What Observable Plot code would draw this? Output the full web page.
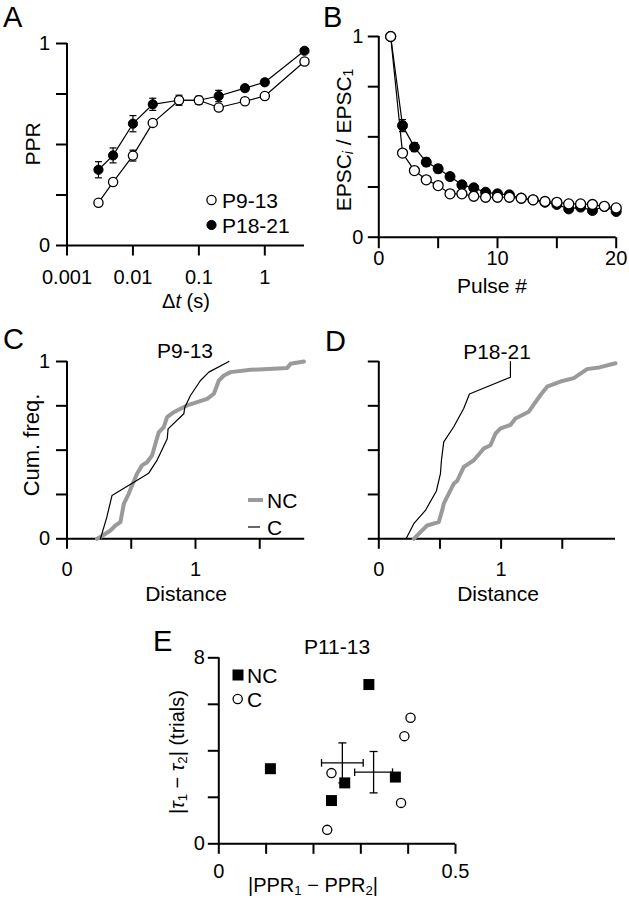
<!DOCTYPE html>
<html><head><meta charset="utf-8">
<script src="https://cdn.jsdelivr.net/npm/d3@7"></script>
<script src="https://cdn.jsdelivr.net/npm/@observablehq/plot@0.6"></script>
<style>
body{margin:0;background:#fff}
#fig{position:relative;width:629px;height:900px;background:#fff;font-family:"Liberation Sans",Arial,sans-serif}
#fig svg{position:absolute}
</style></head><body><div id="fig"></div>
<script>
// ---------- Panel A: paired-pulse ratio vs interval ----------
const dtA = [0.003, 0.005, 0.01, 0.02, 0.05, 0.1, 0.2, 0.5, 1, 4];
const pprP9 = [0.212, 0.314, 0.445, 0.607, 0.719, 0.719, 0.683, 0.714, 0.740, 0.911];
const pprP9Err = [0.012, 0.015, 0.027, 0.015, 0.012, 0.012, 0.015, 0.012, 0.012, 0.012];
const pprP18 = [0.375, 0.446, 0.603, 0.699, 0.719, 0.719, 0.740, 0.779, 0.808, 0.964];
const pprP18Err = [0.040, 0.037, 0.040, 0.030, 0.025, 0.020, 0.028, 0.015, 0.015, 0.012];
const dtTicks = [0.001, 0.01, 0.1, 1];
const dtTickLabels = ["0.001", "0.01", "0.1", "1"];
const unitTicks = [0, 0.25, 0.5, 0.75, 1];

// ---------- Panel B: train depression ----------
const pulses = [1,2,3,4,5,6,7,8,9,10,11,12,13,14,15,16,17,18,19,20];
const epscP9 = [1.0, 0.419, 0.332, 0.286, 0.257, 0.216, 0.216, 0.204, 0.199, 0.199, 0.199, 0.194, 0.186, 0.178, 0.174, 0.166, 0.166, 0.163, 0.154, 0.146];
const epscP9Err = [0, 0.01, 0.01, 0.01, 0.01, 0.01, 0.01, 0.01, 0.01, 0.01, 0.01, 0.01, 0.01, 0.018, 0.01, 0.01, 0.01, 0.01, 0.01, 0.01];
const epscP18 = [1.0, 0.556, 0.449, 0.374, 0.341, 0.302, 0.261, 0.246, 0.224, 0.216, 0.211, 0.194, 0.186, 0.174, 0.163, 0.141, 0.150, 0.133, 0.153, 0.128];
const epscP18Err = [0, 0.03, 0.022, 0.02, 0.02, 0.018, 0.016, 0.015, 0.014, 0.013, 0.012, 0.012, 0.012, 0.012, 0.012, 0.012, 0.012, 0.012, 0.012, 0.012];
const pulseTicks = [0, 5, 10, 15, 20];

// ---------- Panel C: P9-13 cumulative distributions ----------
const distC_NC = [0.234, 0.26, 0.338, 0.377, 0.416, 0.442, 0.48, 0.506, 0.545, 0.584, 0.623, 0.662, 0.688, 0.714, 0.753, 0.779, 0.831, 0.883, 0.935, 1.013, 1.091, 1.143, 1.182, 1.221, 1.273, 1.429, 1.714, 1.74, 1.844];
const cumC_NC  = [0, 0.01, 0.047, 0.075, 0.094, 0.197, 0.254, 0.30, 0.367, 0.414, 0.432, 0.47, 0.536, 0.60, 0.63, 0.686, 0.714, 0.733, 0.752, 0.771, 0.789, 0.818, 0.893, 0.921, 0.94, 0.953, 0.964, 0.987, 1.0];
const distC_C = [0.26, 0.31, 0.35, 0.636, 0.70, 0.78, 0.787, 0.909, 0.917, 0.961, 1.039, 1.104, 1.26];
const cumC_C  = [0, 0.122, 0.244, 0.370, 0.442, 0.564, 0.620, 0.705, 0.742, 0.808, 0.893, 0.940, 1.0];

// ---------- Panel D: P18-21 cumulative distributions ----------
const distD_NC = [0.286, 0.34, 0.395, 0.49, 0.518, 0.531, 0.572, 0.613, 0.64, 0.695, 0.777, 0.858, 0.913, 0.954, 0.995, 1.076, 1.117, 1.226, 1.322, 1.376, 1.485, 1.594, 1.703, 1.812, 1.935];
const cumD_NC  = [0, 0.038, 0.075, 0.094, 0.16, 0.198, 0.255, 0.311, 0.326, 0.406, 0.443, 0.509, 0.528, 0.594, 0.623, 0.642, 0.679, 0.717, 0.811, 0.858, 0.887, 0.906, 0.957, 0.968, 0.99];
const distD_C = [0.223, 0.286, 0.381, 0.471, 0.504, 0.512, 0.531, 0.613, 0.695, 0.741, 1.076, 1.076];
const cumD_C  = [0, 0.085, 0.16, 0.27, 0.368, 0.443, 0.547, 0.632, 0.736, 0.817, 0.911, 1.0];
const distTicks = [0, 0.5, 1, 1.5];

// ---------- Panel E: P11-13 scatter ----------
const pprDiffNC = [0.109, 0.317, 0.266, 0.238, 0.373];
const tauDiffNC = [3.23, 6.85, 2.62, 1.86, 2.87];
const pprDiffC = [0.238, 0.229, 0.405, 0.392, 0.385];
const tauDiffC = [3.04, 0.60, 5.42, 4.63, 1.76];
const meanGroups = ["NC", "C"];
const meanPPR = [0.261, 0.327];
const semPPR = [0.044, 0.040];
const meanTau = [3.48, 3.08];
const semTau = [0.86, 0.89];
const pprTicks = [0, 0.1, 0.2, 0.3, 0.4, 0.5];
const tauTicks = [0, 2, 4, 6, 8];

// ---------- helpers ----------
const FONT = '"Liberation Sans", Arial, Helvetica, sans-serif';
const GRAY = "#9a9a9a";
const fig = d3.select("#fig");
const rad = (size) => Math.sqrt(size / Math.PI);
const hCap = {draw(ctx, size) { const r = rad(size); ctx.moveTo(-r, 0); ctx.lineTo(r, 0); }};
const vCap = {draw(ctx, size) { const r = rad(size); ctx.moveTo(0, -r); ctx.lineTo(0, r); }};
const tickLeft = {draw(ctx, size) { const r = rad(size); ctx.moveTo(0, 0); ctx.lineTo(-r, 0); }};
const tickDown = {draw(ctx, size) { const r = rad(size); ctx.moveTo(0, 0); ctx.lineTo(0, r); }};
const endLabels = (keep) => (d) => keep.includes(d) ? String(d) : "";
const baseStyle = {fontSize: "20px", fontFamily: FONT, color: "black", background: "transparent", overflow: "visible"};

function place(svg, left, top) {
  svg.style.left = left + "px";
  svg.style.top = top + "px";
  document.getElementById("fig").appendChild(svg);
}
// axis lines + outward ticks + end labels
function axes({xTicks, yTicks, xMin, yMin, xFmt, yFmt, xPad, yPad, xLen = 10, yLen = 11}) {
  return [
    Plot.ruleX([xMin], {stroke: "black", strokeWidth: 2}),
    Plot.ruleY([yMin], {stroke: "black", strokeWidth: 2}),
    Plot.dot(xTicks, {x: d => d, y: () => yMin, symbol: tickDown, r: xLen, stroke: "black", strokeWidth: 2, fill: "none"}),
    Plot.dot(yTicks, {x: () => xMin, y: d => d, symbol: tickLeft, r: yLen, stroke: "black", strokeWidth: 2, fill: "none"}),
    Plot.axisX({ticks: xTicks, tickFormat: xFmt, tickSize: 0, tickPadding: xPad, label: null, fill: "black"}),
    Plot.axisY({ticks: yTicks, tickFormat: yFmt, tickSize: 0, tickPadding: yPad, label: null, fill: "black"})
  ];
}
function errMarks(rows, xKey) {
  return [
    Plot.ruleX(rows, {x: xKey, y1: d => d.v - d.e, y2: d => d.v + d.e, stroke: "black", strokeWidth: 1.2}),
    Plot.dot(rows, {x: xKey, y: d => d.v + d.e, symbol: hCap, r: 3.5, stroke: "black", strokeWidth: 1.2, fill: "none"}),
    Plot.dot(rows, {x: xKey, y: d => d.v - d.e, symbol: hCap, r: 3.5, stroke: "black", strokeWidth: 1.2, fill: "none"})
  ];
}

// ---------- Panel A ----------
const rowsA9 = dtA.map((t, i) => ({t, v: pprP9[i], e: pprP9Err[i]}));
const rowsA18 = dtA.map((t, i) => ({t, v: pprP18[i], e: pprP18Err[i]}));
const dtLabelMap = new Map(dtTicks.map((t, i) => [t, dtTickLabels[i]]));
place(Plot.plot({
  width: 315, height: 310, marginLeft: 66.5, marginRight: 11, marginTop: 43, marginBottom: 65,
  style: baseStyle,
  x: {type: "log", domain: [dtTicks[0], dtA[dtA.length - 1]]},
  y: {domain: [0, 1]},
  marks: [
    ...axes({xTicks: dtTicks, yTicks: unitTicks, xMin: dtTicks[0], yMin: 0,
      xFmt: d => dtLabelMap.get(d), yFmt: endLabels([0, 1]), xPad: 24.5, yPad: 17}),
    Plot.line(rowsA18, {x: "t", y: "v", stroke: "black", strokeWidth: 1.2}),
    Plot.line(rowsA9, {x: "t", y: "v", stroke: "black", strokeWidth: 1.2}),
    ...errMarks(rowsA18, "t"),
    ...errMarks(rowsA9, "t"),
    Plot.dot(rowsA18, {x: "t", y: "v", r: 4.6, fill: "black", stroke: "black", strokeWidth: 1}),
    Plot.dot(rowsA9, {x: "t", y: "v", r: 4.6, fill: "white", stroke: "black", strokeWidth: 1.3})
  ]
}), 0, 0);

// ---------- Panel B ----------
const rowsB9 = pulses.map((p, i) => ({p, v: epscP9[i], e: epscP9Err[i]}));
const rowsB18 = pulses.map((p, i) => ({p, v: epscP18[i], e: epscP18Err[i]}));
place(Plot.plot({
  width: 319, height: 310, marginLeft: 68.3, marginRight: 13.3, marginTop: 36, marginBottom: 73.3,
  style: baseStyle,
  x: {domain: [pulseTicks[0], pulseTicks[pulseTicks.length - 1]]},
  y: {domain: [0, 1]},
  marks: [
    ...axes({xTicks: pulseTicks, yTicks: unitTicks, xMin: 0, yMin: 0,
      xFmt: endLabels([0, 10, 20]), yFmt: endLabels([0, 1]), xPad: 14, yPad: 15.5, xLen: 11}),
    Plot.line(rowsB18, {x: "p", y: "v", stroke: "black", strokeWidth: 1.2}),
    Plot.line(rowsB9, {x: "p", y: "v", stroke: "black", strokeWidth: 1.2}),
    ...errMarks(rowsB18.filter(d => d.e > 0), "p"),
    ...errMarks(rowsB9.filter(d => d.e > 0), "p"),
    Plot.dot(rowsB18, {x: "p", y: "v", r: 5, fill: "black", stroke: "black", strokeWidth: 1}),
    Plot.dot(rowsB9, {x: "p", y: "v", r: 5, fill: "white", stroke: "black", strokeWidth: 1.3})
  ]
}), 310, 0);

// ---------- Panels C and D ----------
function cumPanel(ncX, ncY, cX, cY, xMax, opts, showYLabels) {
  const nc = ncX.map((d, i) => ({d, c: ncY[i]}));
  const cc = cX.map((d, i) => ({d, c: cY[i]}));
  return Plot.plot({
    ...opts,
    style: baseStyle,
    x: {domain: [0, xMax]},
    y: {domain: [0, 1]},
    marks: [
      ...axes({xTicks: distTicks, yTicks: unitTicks, xMin: 0, yMin: 0,
        xFmt: endLabels([0, 1]), yFmt: showYLabels ? endLabels([0, 1]) : () => "", xPad: 23, yPad: 17}),
      Plot.line(nc, {x: "d", y: "c", stroke: GRAY, strokeWidth: 4, strokeLinejoin: "round"}),
      Plot.line(cc, {x: "d", y: "c", stroke: "black", strokeWidth: 1.2})
    ]
  });
}
place(cumPanel(distC_NC, cumC_NC, distC_C, cumC_C, 1.85,
  {width: 315, height: 300, marginLeft: 66.5, marginRight: 10.8, marginTop: 51, marginBottom: 71.7}, true), 0, 310);
place(cumPanel(distD_NC, cumD_NC, distD_C, cumD_C, 1.935,
  {width: 314, height: 300, marginLeft: 63.3, marginRight: 14, marginTop: 51, marginBottom: 71.7}, false), 315, 310);

// ---------- Panel E ----------
const rowsENC = pprDiffNC.map((x, i) => ({x, y: tauDiffNC[i]}));
const rowsEC = pprDiffC.map((x, i) => ({x, y: tauDiffC[i]}));
const meanRows = meanGroups.map((g, i) => ({g, x: meanPPR[i], ex: semPPR[i], y: meanTau[i], ey: semTau[i]}));
place(Plot.plot({
  width: 320, height: 290, marginLeft: 68.3, marginRight: 15, marginTop: 47.3, marginBottom: 56.7,
  style: baseStyle,
  x: {domain: [0, 0.5]},
  y: {domain: [0, 8]},
  marks: [
    ...axes({xTicks: pprTicks, yTicks: tauTicks, xMin: 0, yMin: 0,
      xFmt: endLabels([0, 0.5]), yFmt: endLabels([0, 8]), xPad: 19.5, yPad: 14}),
    Plot.dot(rowsENC, {x: "x", y: "y", symbol: "square", r: 6.2, fill: "black"}),
    Plot.dot(rowsEC, {x: "x", y: "y", r: 4.6, fill: "white", stroke: "black", strokeWidth: 1.3}),
    Plot.link(meanRows, {x1: d => d.x - d.ex, x2: d => d.x + d.ex, y1: "y", y2: "y", stroke: "black", strokeWidth: 1.3}),
    Plot.link(meanRows, {x1: "x", x2: "x", y1: d => d.y - d.ey, y2: d => d.y + d.ey, stroke: "black", strokeWidth: 1.3}),
    Plot.dot(meanRows, {x: d => d.x - d.ex, y: "y", symbol: vCap, r: 3.8, stroke: "black", strokeWidth: 1.3, fill: "none"}),
    Plot.dot(meanRows, {x: d => d.x + d.ex, y: "y", symbol: vCap, r: 3.8, stroke: "black", strokeWidth: 1.3, fill: "none"}),
    Plot.dot(meanRows, {x: "x", y: d => d.y - d.ey, symbol: hCap, r: 4, stroke: "black", strokeWidth: 1.3, fill: "none"}),
    Plot.dot(meanRows, {x: "x", y: d => d.y + d.ey, symbol: hCap, r: 4, stroke: "black", strokeWidth: 1.3, fill: "none"})
  ]
}), 150, 610);

// ---------- annotation overlay (letters, titles, axis labels, legends) ----------
const ov = fig.append("svg").attr("width", 629).attr("height", 900)
  .style("left", "0px").style("top", "0px").style("pointer-events", "none")
  .attr("font-family", FONT).attr("fill", "black");

function label(x, y, parts, {size = 21, anchor = "middle", rotate = 0, baseline = "central"} = {}) {
  const t = ov.append("text").attr("transform", `translate(${x},${y}) rotate(${rotate})`)
    .attr("text-anchor", anchor).attr("dominant-baseline", baseline).attr("font-size", size);
  let shift = 0;
  for (const p of parts) {
    const [s, kind] = typeof p === "string" ? [p, ""] : p;
    const sp = t.append("tspan").text(s);
    const sub = kind.includes("sub");
    const target = sub ? size * 0.25 : 0;
    if (target !== shift) { sp.attr("dy", target - shift); shift = target; }
    if (sub) sp.attr("font-size", size * 0.66);
    if (kind.startsWith("i")) sp.attr("font-style", "italic");
  }
  return t;
}

// panel letters
const letters = [["A", 3, 27], ["B", 323, 27], ["C", 3, 349], ["D", 325, 351], ["E", 153, 651]];
for (const [s, x, y] of letters) label(x, y, [s], {size: 29, anchor: "start", baseline: "alphabetic"});

// Panel A labels and legend
label(32, 144, ["PPR"], {rotate: -90});
label(186, 300.5, ["Δ", ["t", "i"], " (s)"], {size: 20});
ov.append("circle").attr("cx", 211.5).attr("cy", 200).attr("r", 4.6).attr("fill", "white").attr("stroke", "black").attr("stroke-width", 1.3);
ov.append("circle").attr("cx", 211.5).attr("cy", 225).attr("r", 4.6).attr("fill", "black").attr("stroke", "black");
label(222, 200, ["P9-13"], {anchor: "start"});
label(222, 225, ["P18-21"], {anchor: "start"});

// Panel B labels
label(343, 140, ["EPSC", ["i", "isub"], " / EPSC", ["1", "sub"]], {rotate: -90});
label(492, 285, ["Pulse #"]);

// Panel C labels and legend
label(185, 350, ["P9-13"]);
label(31, 445, ["Cum. freq."], {rotate: -90, size: 22});
label(186, 593, ["Distance"]);
ov.append("line").attr("x1", 248).attr("x2", 263).attr("y1", 500).attr("y2", 500).attr("stroke", GRAY).attr("stroke-width", 4);
ov.append("line").attr("x1", 248).attr("x2", 260).attr("y1", 527).attr("y2", 527).attr("stroke", "black").attr("stroke-width", 1.2);
label(267, 500, ["NC"], {anchor: "start"});
label(267, 527, ["C"], {anchor: "start"});

// Panel D labels
label(497, 351, ["P18-21"]);
label(498, 593, ["Distance"]);

// Panel E labels and legend
label(337, 646, ["P11-13"]);
label(177, 752, ["|", ["τ", "i"], ["1", "sub"], " − ", ["τ", "i"], ["2", "sub"], "| (trials)"], {rotate: -90, size: 20});
label(313, 885, ["|PPR", ["1", "sub"], " − PPR", ["2", "sub"], "|"], {size: 20});
ov.append("rect").attr("x", 232.5).attr("y", 669.5).attr("width", 11).attr("height", 11).attr("fill", "black");
ov.append("circle").attr("cx", 237.7).attr("cy", 699).attr("r", 4.6).attr("fill", "white").attr("stroke", "black").attr("stroke-width", 1.3);
label(247, 675, ["NC"], {anchor: "start"});
label(247, 699, ["C"], {anchor: "start"});
</script></body></html>
